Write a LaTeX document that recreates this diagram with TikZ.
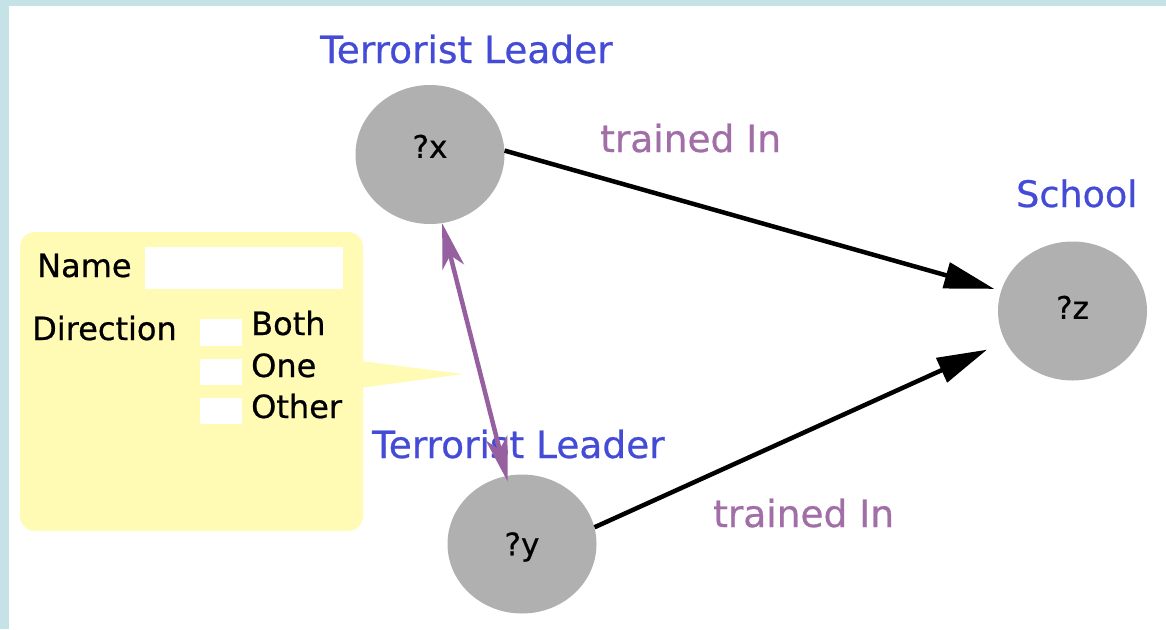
\documentclass[tikz,border=0pt]{standalone}
\usepackage{fontspec}
\setmainfont[FakeBold=0.6]{DejaVu Sans}
\usetikzlibrary{arrows.meta,shapes.geometric}
\definecolor{frameblue}{RGB}{197,227,231}
\definecolor{notey}{RGB}{255,251,180}
\definecolor{nodegray}{RGB}{176,176,176}
\definecolor{lblblue}{RGB}{68,76,215}
\definecolor{lblpurple}{RGB}{162,110,168}
\definecolor{arrpurple}{RGB}{150,96,160}
\begin{document}
\begin{tikzpicture}[x=1pt,y=-1pt,
  vnode/.style={ellipse, fill=nodegray, minimum width=149pt, minimum height=139pt,
    inner sep=0pt, font=\fontsize{31}{36}\selectfont, text height=22.5pt},
  lbl/.style={anchor=base west, inner sep=0pt, font=\fontsize{37.5}{44}\selectfont},
  cls/.style={lbl, text=lblblue},
  rel/.style={lbl, text=lblpurple},
  formtxt/.style={anchor=base west, inner sep=0pt, font=\fontsize{32}{38}\selectfont},
  field/.style={fill=white},
  edge/.style={line width=4.5pt, -{Triangle[length=50pt,width=26pt]}},
  link/.style={line width=4.5pt, draw=arrpurple,
    {Stealth[length=45pt,width=22pt,inset=12pt]}-{Stealth[length=45pt,width=22pt,inset=12pt]}}
]
\useasboundingbox (0,0) rectangle (1166,629);
% frame
\fill[frameblue] (0,0) rectangle (1166,629);
\fill[white] (9,6) rectangle (1166,629);
% callout form
\fill[notey, rounded corners=15pt] (20,232) rectangle (363,531);
\fill[notey] (360,361) -- (463,374) -- (360,388) -- cycle;
\fill[field] (145,247) rectangle (343,289);
\fill[field] (200,319) rectangle (242,346);
\fill[field] (200,359) rectangle (242,385);
\fill[field] (200,398) rectangle (242,424);
\node[formtxt] (fname) at (37,277) {Name};
\node[formtxt] (fdir) at (32,340) {Direction};
\node[formtxt] (fboth) at (251,335) {Both};
\node[formtxt] (fone) at (251,377) {One};
\node[formtxt] (fother) at (251,418) {Other};
% nodes
\node[vnode, text depth=16pt] (x) at (430,154.5) {?x};
\node[vnode, text depth=0pt] (y) at (522,544) {?y};
\node[vnode, text depth=7pt] (z) at (1072.5,311) {?z};
% labels
\node[cls] (lx) at (320,63) {Terrorist Leader};
\node[cls] (ly) at (372,458) {Terrorist Leader};
\node[cls, font=\fontsize{36.5}{43}\selectfont] (lz) at (1016,207) {School};
\node[rel] (r1) at (600,152) {trained In};
\node[rel] (r2) at (713,527) {trained In};
% connectors
\draw[edge, shorten >=7pt] (x.3) -- (z);
\draw[edge, shorten >=20pt] (y.13) -- (z);
\draw[link, shorten >=-6pt] (x.-80) -- (y.103);
\end{tikzpicture}
\end{document}
